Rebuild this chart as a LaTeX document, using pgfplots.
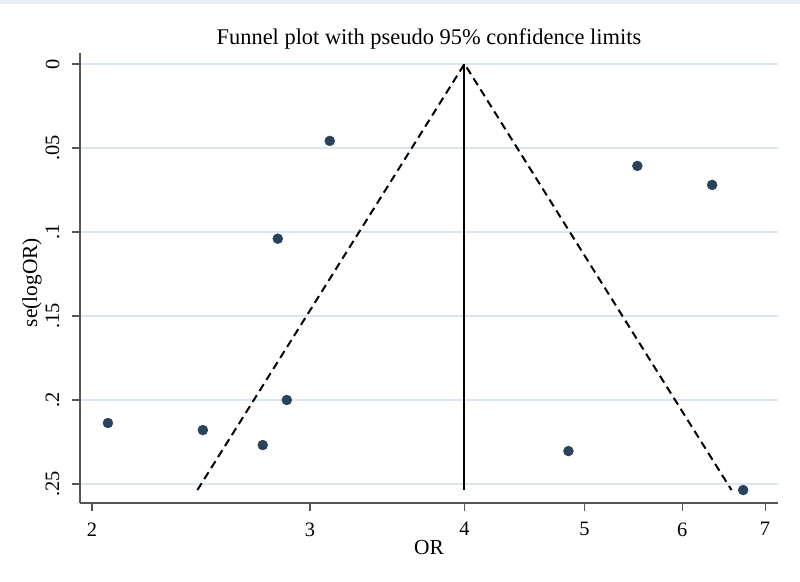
\documentclass[border=0pt]{standalone}
\usepackage{pgfplots}
\pgfplotsset{compat=1.18}
\usepackage{fontspec}
\setmainfont{Liberation Serif}
\definecolor{gridc}{RGB}{218,230,240}
\definecolor{axc}{RGB}{85,85,85}
\definecolor{dotc}{RGB}{42,66,92}
\definecolor{band}{RGB}{232,240,243}
\begin{document}
\begin{tikzpicture}
\path[use as bounding box, fill=white] (-80bp,-79bp) rectangle (720bp,503bp);
\fill[band] (-80bp,499bp) rectangle (720bp,503bp);
\begin{axis}[
  at={(0,0)}, anchor=south west,
  scale only axis, width=698bp, height=450bp,
  xmode=log, xmin=1.956, xmax=7.17,
  ymin=-0.0065, ymax=0.2613, y dir=reverse,
  axis x line=bottom, axis y line=left,
  axis line style={axc, line width=1.8bp, -},
  tick style={axc, line width=1.2bp},
  tick align=outside, major tick length=8bp,
  xminorticks=false, yminorticks=false,
  xtick={2,3,4,5,6,7}, xticklabels={2,3,4,5,6,7},
  ytick={0,0.05,0.1,0.15,0.2,0.25}, yticklabels={0,.05,.1,.15,.2,.25},
  xticklabel style={yshift=-8bp},
  yticklabel style={rotate=90, anchor=south, yshift=9bp},
  ymajorgrids, grid style={gridc, line width=1.5bp},
  ticklabel style={font=\fontsize{20.5}{24}\selectfont},
  /pgf/number format/assume math mode=true,
  xlabel={OR}, ylabel={se(logOR)},
  label style={font=\fontsize{21.5}{25}\selectfont},
  xlabel style={at={(axis description cs:0.5,0)}, anchor=base, yshift=-51bp},
  ylabel style={at={(axis description cs:0,0.49)}, anchor=center, yshift=48bp},
  clip=false,
]
\addplot[black, line width=2bp] coordinates {(4,0) (4,0.2536)};
\addplot[black, line width=2bp, dash pattern=on 8bp off 5bp] coordinates {(2.433,0.2536) (4,0) (6.576,0.2536)};
\addplot[only marks, mark=*, mark size=5bp, mark options={fill=dotc, draw=dotc}] coordinates {
(3.113,0.0458) (2.826,0.104) (5.518,0.0607) (6.343,0.072) (2.06,0.2137)
(2.458,0.2179) (2.874,0.2) (2.748,0.2268) (4.854,0.2304) (6.72,0.2536)
};
\node[font=\fontsize{22.5}{27}\selectfont, anchor=base, yshift=9bp] at (axis description cs:0.5,1) {Funnel plot with pseudo 95\% confidence limits};
\end{axis}
\end{tikzpicture}
\end{document}
